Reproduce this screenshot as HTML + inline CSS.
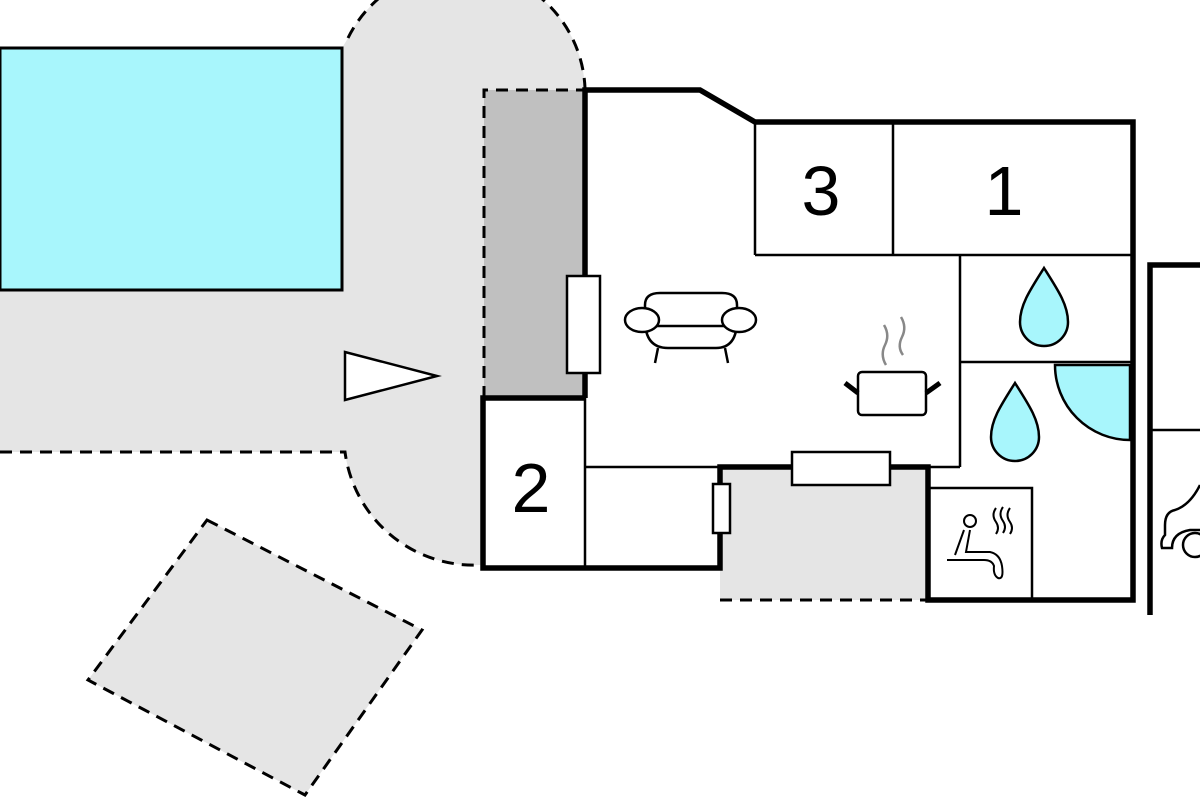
<!DOCTYPE html>
<html><head><style>html,body{margin:0;padding:0;background:#fff}svg{display:block}</style></head>
<body>
<svg width="1200" height="800" viewBox="0 0 1200 800" xmlns="http://www.w3.org/2000/svg">
<path d="M0,48 L342,48 L348,38 A125 125 0 0 1 585,88 L585,565 L480,565 A130 130 0 0 1 345,452 L0,452 Z" fill="#e5e5e5"/>
<path d="M348,38 A125 125 0 0 1 585,88" fill="none" stroke="#000" stroke-width="3" stroke-dasharray="12,8"/>
<path d="M0,452 L345,452 A130 130 0 0 0 480,565" fill="none" stroke="#000" stroke-width="3" stroke-dasharray="12,8"/>
<rect x="0" y="48" width="342" height="242" fill="#a8f6fc" stroke="#000" stroke-width="3"/>
<polygon points="207,520 422,630 305,795 88,680" fill="#e5e5e5" stroke="#000" stroke-width="3" stroke-dasharray="12,8"/>
<polygon points="345,352 345,400 437,376" fill="#fff" stroke="#000" stroke-width="2.5"/>
<rect x="484" y="90" width="101" height="308" fill="#c0c0c0"/>
<path d="M484,398 L484,90 L585,90" fill="none" stroke="#000" stroke-width="3" stroke-dasharray="12,8"/>
<polygon points="585,90 700,90 755,122 1133,122 1133,600 928,600 928,467 720,467 720,568 483,568 483,398 585,398" fill="#fff"/>
<rect x="720" y="467" width="208" height="133" fill="#e5e5e5"/>
<line x1="720" y1="600" x2="928" y2="600" stroke="#000" stroke-width="3" stroke-dasharray="12,8"/>
<g stroke="#000" stroke-width="2.5" fill="none">
<line x1="755" y1="122" x2="755" y2="255"/>
<line x1="893" y1="122" x2="893" y2="255"/>
<line x1="755" y1="255" x2="1133" y2="255"/>
<line x1="960" y1="255" x2="960" y2="467"/>
<line x1="960" y1="362" x2="1133" y2="362"/>
<line x1="928" y1="467" x2="960" y2="467"/>
<line x1="585" y1="398" x2="585" y2="568"/>
<line x1="585" y1="467" x2="720" y2="467"/>
<rect x="928" y="488" width="104" height="112"/>
<line x1="1150" y1="430" x2="1200" y2="430"/>
</g>
<g stroke="#000" stroke-width="5.5" fill="none" stroke-linejoin="miter">
<polyline points="585,398 585,90 700,90 755,122 1133,122 1133,600 928,600 928,467 720,467 720,568 483,568 483,398 585,398"/>
<polyline points="1200,265 1150,265 1150,615"/>
</g>
<path d="M1055,365 A75 75 0 0 0 1130,440 L1130,365 Z" fill="#a8f6fc" stroke="#000" stroke-width="2.5"/>
<path d="M1044,268 C1030,290 1020,305 1020,322 A24 24 0 0 0 1068,322 C1068,305 1058,290 1044,268 Z" fill="#a8f6fc" stroke="#000" stroke-width="2.5"/>
<path d="M1015,383 C1001,405 991,420 991,437 A24 24 0 0 0 1039,437 C1039,420 1029,405 1015,383 Z" fill="#a8f6fc" stroke="#000" stroke-width="2.5"/>
<g fill="#fff" stroke="#000" stroke-width="2.5">
<rect x="567" y="276" width="33" height="97"/>
<rect x="792" y="452" width="98" height="33"/>
<rect x="713" y="484" width="17" height="49"/>
</g>
<g fill="#fff" stroke="#000" stroke-width="2.5">
<path d="M645,320 L645,305 Q645,293 660,293 L722,293 Q737,293 737,305 L737,320"/>
<path d="M645,320 Q645,348 668,348 L716,348 Q737,348 737,320"/>
<line x1="658" y1="348" x2="655" y2="363"/><line x1="725" y1="348" x2="728" y2="363"/>
<line x1="655" y1="326" x2="727" y2="326"/>
<ellipse cx="642" cy="320" rx="17" ry="12"/>
<ellipse cx="739" cy="320" rx="17" ry="12"/>
</g>
<g stroke="#000" fill="#fff">
<rect x="858" y="372" width="68" height="43" rx="4" stroke-width="2.5"/>
<line x1="845" y1="383" x2="858" y2="393" stroke-width="5"/>
<line x1="940" y1="383" x2="926" y2="393" stroke-width="5"/>
<path d="M886,365 Q880,355 885,345 Q890,335 884,325" fill="none" stroke="#888" stroke-width="2.5"/>
<path d="M903,355 Q897,347 902,337 Q907,327 901,317" fill="none" stroke="#888" stroke-width="2.5"/>
</g>
<g stroke="#000" stroke-width="2" fill="none">
<circle cx="970" cy="521" r="6"/>
<path d="M964,530 L955,555 M970,530 L966,552 L990,552 Q1000,554 1002,566 Q1004,580 998,578 Q993,575 994,566 Q992,560 984,560 L962,560"/>
<line x1="947" y1="560" x2="980" y2="560"/>
<path d="M996,508 Q991,515 996,522 Q1000,528 996,534 M1003,507 Q998,514 1003,521 Q1007,527 1003,533 M1010,508 Q1005,515 1010,522 Q1014,528 1010,534"/>
</g>
<g stroke="#000" stroke-width="2.5" fill="none">
<path d="M1200,485 Q1190,505 1175,510 Q1165,512 1165,525 L1165,535 Q1160,540 1162,548 L1172,548 Q1172,533 1190,530 L1200,530"/>
<circle cx="1195" cy="545" r="12"/>
</g>
<g font-family="Liberation Sans, sans-serif" font-size="70" text-anchor="middle" fill="#000">
<text x="821" y="215">3</text>
<text x="1004" y="215">1</text>
<text x="531" y="512">2</text>
</g>
</svg>
</body></html>
